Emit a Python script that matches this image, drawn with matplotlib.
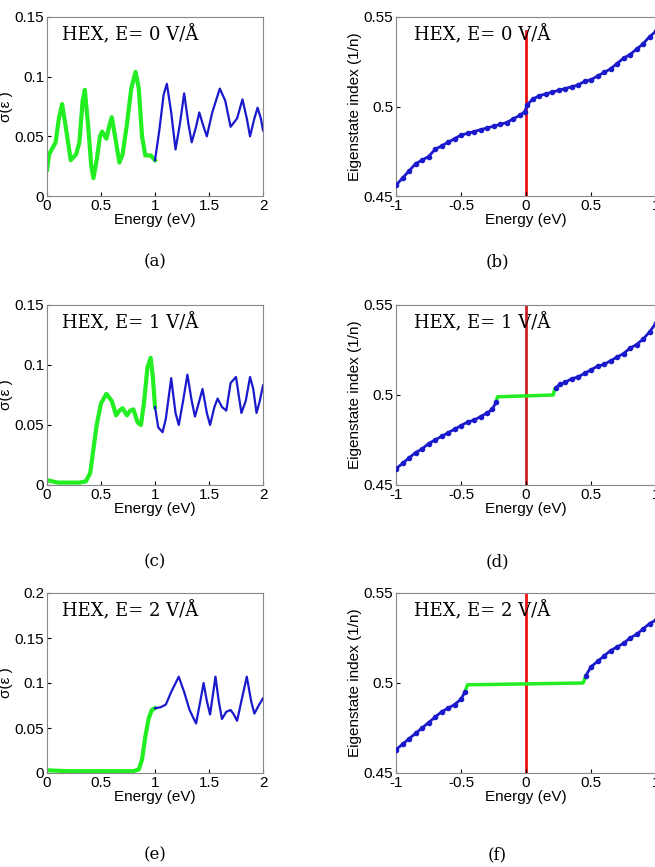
import matplotlib
matplotlib.use("Agg")
import matplotlib.pyplot as plt
import numpy as np

# ---- conductivity panels (a), (c), (e) ----
a_gx = [0, 0.02, 0.05, 0.08, 0.11, 0.14, 0.17, 0.22, 0.27, 0.3, 0.33, 0.35, 0.38, 0.41, 0.43, 0.46, 0.49, 0.51, 0.55, 0.58, 0.6, 0.63, 0.67, 0.7, 0.74, 0.78, 0.82, 0.85, 0.88, 0.91, 0.96, 1.0]
a_gy = [0.022, 0.035, 0.04, 0.045, 0.065, 0.077, 0.06, 0.03, 0.035, 0.045, 0.08, 0.089, 0.06, 0.025, 0.015, 0.03, 0.05, 0.054, 0.048, 0.06, 0.066, 0.05, 0.028, 0.035, 0.06, 0.09, 0.104, 0.09, 0.05, 0.034, 0.034, 0.03]
a_bx = [1.0, 1.04, 1.08, 1.11, 1.15, 1.19, 1.23, 1.27, 1.31, 1.34, 1.38, 1.41, 1.45, 1.48, 1.53, 1.6, 1.65, 1.7, 1.76, 1.81, 1.85, 1.88, 1.92, 1.95, 1.98, 2.0]
a_by = [0.03, 0.055, 0.085, 0.094, 0.07, 0.039, 0.06, 0.086, 0.06, 0.045, 0.058, 0.07, 0.058, 0.05, 0.07, 0.09, 0.08, 0.058, 0.065, 0.081, 0.065, 0.05, 0.065, 0.074, 0.065, 0.055]

c_gx = [0, 0.05, 0.1, 0.2, 0.3, 0.36, 0.4, 0.43, 0.46, 0.5, 0.55, 0.6, 0.64, 0.67, 0.7, 0.74, 0.77, 0.8, 0.84, 0.87, 0.9, 0.93, 0.96, 0.98, 1.0]
c_gy = [0.004, 0.003, 0.002, 0.002, 0.002, 0.003, 0.01, 0.03, 0.05, 0.068, 0.076, 0.07, 0.058, 0.062, 0.064, 0.058, 0.062, 0.063, 0.052, 0.05, 0.07, 0.098, 0.106, 0.09, 0.065]
c_bx = [1.0, 1.03, 1.07, 1.1, 1.15, 1.19, 1.22, 1.26, 1.3, 1.34, 1.37, 1.41, 1.44, 1.48, 1.51, 1.55, 1.58, 1.62, 1.66, 1.7, 1.75, 1.8, 1.84, 1.88, 1.91, 1.94, 1.97, 2.0]
c_by = [0.065, 0.048, 0.044, 0.055, 0.089, 0.06, 0.05, 0.07, 0.092, 0.07, 0.057, 0.07, 0.08, 0.06, 0.05, 0.065, 0.072, 0.065, 0.062, 0.085, 0.09, 0.06, 0.07, 0.09, 0.08, 0.06, 0.07, 0.083]

e_gx = [0, 0.2, 0.4, 0.6, 0.8, 0.85, 0.88, 0.91, 0.94, 0.97, 1.0]
e_gy = [0.003, 0.002, 0.002, 0.002, 0.002, 0.004, 0.015, 0.04, 0.06, 0.07, 0.072]
e_bx = [1.0, 1.05, 1.1, 1.15, 1.22, 1.27, 1.32, 1.38, 1.42, 1.45, 1.48, 1.51, 1.56, 1.59, 1.62, 1.66, 1.7, 1.73, 1.76, 1.8, 1.85, 1.89, 1.92, 1.96, 2.0]
e_by = [0.072, 0.073, 0.076, 0.09, 0.107, 0.09, 0.07, 0.055, 0.08, 0.1, 0.08, 0.065, 0.107, 0.08, 0.06, 0.068, 0.07, 0.065, 0.058, 0.08, 0.107, 0.08, 0.066, 0.075, 0.083]

# ---- eigenstate panels (b), (d), (f) ----
b_x = [-1, -0.95, -0.9, -0.85, -0.8, -0.75, -0.7, -0.65, -0.6, -0.55, -0.5, -0.45, -0.4, -0.35, -0.3, -0.25, -0.2, -0.15, -0.1, -0.05, -0.01,
       0.01, 0.05, 0.1, 0.15, 0.2, 0.25, 0.3, 0.35, 0.4, 0.45, 0.5, 0.55, 0.6, 0.65, 0.7, 0.75, 0.8, 0.85, 0.9, 0.95, 1.0]
b_y = [0.456, 0.460, 0.464, 0.468, 0.470, 0.472, 0.476, 0.478, 0.480, 0.482, 0.484, 0.485, 0.486, 0.487, 0.488, 0.489, 0.490, 0.491, 0.493, 0.495, 0.497,
       0.501, 0.504, 0.506, 0.507, 0.508, 0.509, 0.510, 0.511, 0.512, 0.514, 0.515, 0.517, 0.519, 0.521, 0.524, 0.527, 0.529, 0.532, 0.535, 0.539, 0.542]

d_lx = [-1, -0.95, -0.9, -0.85, -0.8, -0.75, -0.7, -0.65, -0.6, -0.55, -0.5, -0.45, -0.4, -0.35, -0.3, -0.26, -0.23]
d_ly = [0.459, 0.462, 0.465, 0.468, 0.470, 0.473, 0.475, 0.477, 0.479, 0.481, 0.483, 0.485, 0.486, 0.488, 0.490, 0.492, 0.496]
d_rx = [0.23, 0.26, 0.3, 0.35, 0.4, 0.45, 0.5, 0.55, 0.6, 0.65, 0.7, 0.75, 0.8, 0.85, 0.9, 0.95, 1.0]
d_ry = [0.504, 0.506, 0.507, 0.509, 0.510, 0.512, 0.514, 0.516, 0.517, 0.519, 0.521, 0.523, 0.526, 0.528, 0.531, 0.535, 0.540]
d_px = [-0.23, -0.22, 0.21, 0.22]
d_py = [0.496, 0.499, 0.500, 0.503]

f_lx = [-1, -0.95, -0.9, -0.85, -0.8, -0.75, -0.7, -0.65, -0.6, -0.55, -0.5, -0.47]
f_ly = [0.463, 0.466, 0.469, 0.472, 0.475, 0.478, 0.481, 0.484, 0.486, 0.488, 0.491, 0.495]
f_rx = [0.46, 0.5, 0.55, 0.6, 0.65, 0.7, 0.75, 0.8, 0.85, 0.9, 0.95, 1.0]
f_ry = [0.504, 0.509, 0.512, 0.515, 0.518, 0.520, 0.522, 0.525, 0.527, 0.530, 0.533, 0.535]
f_px = [-0.47, -0.45, 0.44, 0.46]
f_py = [0.495, 0.499, 0.500, 0.504]

labels = ["(a)", "(b)", "(c)", "(d)", "(e)", "(f)"]
titles = ["HEX, E= 0 V/Å", "HEX, E= 1 V/Å", "HEX, E= 2 V/Å"]

W, H = 655, 867
fig = plt.figure(figsize=(W/100, H/100), dpi=100)
plt.rcParams['font.family'] = ['Liberation Sans', 'DejaVu Sans']

def ax_px(l, t, r, b):
    return fig.add_axes([l/W, 1-b/H, (r-l)/W, (b-t)/H])

GREEN = '#22ee22'
BLUE = '#1a1acc'
rows = [(17, 196), (305, 485), (593, 773)]
lab_y = [262, 562, 855]
sig = [(a_gx, a_gy, a_bx, a_by, 0.15, [0, 0.05, 0.1, 0.15]),
       (c_gx, c_gy, c_bx, c_by, 0.15, [0, 0.05, 0.1, 0.15]),
       (e_gx, e_gy, e_bx, e_by, 0.2, [0, 0.05, 0.1, 0.15, 0.2])]
eig = [(b_x, b_y, None, None, None, None),
       (d_lx, d_ly, d_rx, d_ry, d_px, d_py),
       (f_lx, f_ly, f_rx, f_ry, f_px, f_py)]
FS = 11

for i, (t, b) in enumerate(rows):
    gx, gy, bx, by, ymax, yt = sig[i]
    ax = ax_px(47, t, 263, b)
    ax.plot(gx, gy, color=GREEN, lw=3)
    ax.plot(bx, by, color=BLUE, lw=1.6)
    ax.set_xlim(0, 2); ax.set_ylim(0, ymax)
    ax.set_xticks([0, 0.5, 1, 1.5, 2]); ax.set_xticklabels(['0', '0.5', '1', '1.5', '2'])
    ax.set_yticks(yt); ax.set_yticklabels([('0' if v == 0 else f'{v:g}') for v in yt])
    ax.set_xlabel('Energy (eV)', fontsize=FS, labelpad=0)
    ax.set_ylabel('σ(ε )', fontsize=FS, labelpad=1)
    ax.tick_params(labelsize=FS, direction='in', length=3, pad=2)
    ax.text(0.07, 0.9, titles[i], transform=ax.transAxes, fontsize=13,
            family='DejaVu Serif', va='center')
    fig.text(155/W, 1-lab_y[i]/H, labels[2*i], ha='center', va='center', fontsize=12, family='DejaVu Serif')

    ex = eig[i]
    ax2 = ax_px(396, t, 656, b)
    ax2.axvline(0, ymax=(0.92 if i == 0 else 1), color='#ee1111' if i != 1 else '#cc2222', lw=2, zorder=1)
    ax2.plot(ex[0], ex[1], color=BLUE, lw=2, marker='o', ms=3, zorder=3)
    if ex[2] is not None:
        ax2.plot(ex[2], ex[3], color=BLUE, lw=2, marker='o', ms=3, zorder=3)
        ax2.plot(ex[4], ex[5], color=GREEN, lw=2.5, zorder=2)
    ax2.set_xlim(-1, 1); ax2.set_ylim(0.45, 0.55)
    ax2.set_xticks([-1, -0.5, 0, 0.5, 1]); ax2.set_xticklabels(['-1', '-0.5', '0', '0.5', '1'])
    ax2.set_yticks([0.45, 0.5, 0.55]); ax2.set_yticklabels(['0.45', '0.5', '0.55'])
    ax2.set_xlabel('Energy (eV)', fontsize=FS, labelpad=0)
    ax2.set_ylabel('Eigenstate index (1/n)', fontsize=FS, labelpad=1)
    ax2.tick_params(labelsize=FS, direction='in', length=3, pad=2)
    ax2.text(0.07, 0.9, titles[i], transform=ax2.transAxes, fontsize=13,
             family='DejaVu Serif', va='center', zorder=5)
    fig.text(497/W, 1-lab_y[i]/H, labels[2*i+1], ha='center', va='center', fontsize=12, family='DejaVu Serif')
    for a in (ax, ax2):
        for s in a.spines.values():
            s.set_color('#888888')

fig.savefig('out.png', dpi=100)
